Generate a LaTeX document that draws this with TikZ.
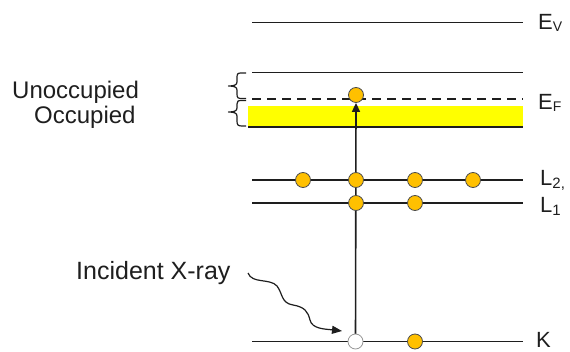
\documentclass[tikz,border=0pt]{standalone}
\usepackage{fontspec}
\setmainfont{Liberation Sans}
\usetikzlibrary{arrows.meta,backgrounds}
\definecolor{dotorange}{HTML}{FFC000}
\definecolor{bandyellow}{HTML}{FFFF00}
\definecolor{ink}{HTML}{1E1E1E}
\begin{document}
\begin{tikzpicture}[x=1pt,y=-1pt,
  level/.style={line width=1.6pt, draw=ink},
  electron/.style={circle, fill=dotorange, draw=black!70, line width=0.8pt,
                   minimum size=15pt, inner sep=0pt},
  hole/.style={circle, fill=white, draw=black!40, line width=0.8pt,
               minimum size=15pt, inner sep=0pt},
  lbl/.style={anchor=base west, inner sep=0pt, text=ink,
              font=\fontsize{22}{22}\selectfont},
  txt/.style={anchor=base west, inner sep=0pt, text=ink,
              font=\fontsize{24}{24}\selectfont},
  bracetick/.style={line width=1.2pt, draw=ink, line join=round}]
\useasboundingbox (0,0) rectangle (570,352);

% level labels
\node[lbl] (ev) at (538,30) {E\raisebox{-2pt}{\fontsize{14}{14}\selectfont V}};
\node[lbl] (ef-lbl) at (538,110) {E\raisebox{-2pt}{\fontsize{14}{14}\selectfont F}};
\node[lbl] (l2) at (540,186) {L\raisebox{-3pt}{\fontsize{15}{15}\selectfont 2,}};
\node[lbl] (l1) at (540,213) {L\raisebox{-3pt}{\fontsize{15}{15}\selectfont 1}};
\node[lbl] (k) at (536,348) {K};

% braces for unoccupied / occupied states
\draw[bracetick] (246,73) -- (241,73) .. controls (237.5,73) and (237,74) .. (237,78)
  -- (237,82) .. controls (237,85) and (234,86) .. (228.5,86)
  .. controls (234,86) and (237,87) .. (237,90) -- (237,94)
  .. controls (237,98) and (238,98.5) .. (242,98.5) -- (246,98.5);
\draw[bracetick] (246,100.5) -- (242,100.5) .. controls (238,100.5) and (237,101) .. (237,104)
  -- (237,108) .. controls (237,111) and (234,112) .. (228.5,112)
  .. controls (234,112) and (237,113) .. (237,116) -- (237,121)
  .. controls (237,125) and (238,126) .. (242,126) -- (246,126);

\node[txt] (unocc) at (12,99) {Unoccupied};
\node[txt] (occ) at (34,124) {Occupied};

% electrons and the core hole
\node[electron] (ef) at (356,95) {};
\node[electron] (l2a) at (303,180) {};
\node[electron] (l2b) at (356,180) {};
\node[electron] (l2c) at (415,180) {};
\node[electron] (l2d) at (473,180) {};
\node[electron] (l1a) at (356,203) {};
\node[electron] (l1b) at (415,203) {};
\node[hole] (k0) at (355.5,341.5) {};
\node[electron] (k1) at (415,341.5) {};

\begin{pgfonlayer}{background}
% occupied band below the Fermi level
\fill[bandyellow] (248,106) rectangle (523,126);
% energy levels
\draw[level] (252,22.5) -- (523,22.5);
\draw[level] (252,72.5) -- (523,72.5);
\draw[level, dash pattern=on 9pt off 6pt] (252,99) -- (523,99);
\draw[level] (248,127) -- (523,127);
\draw[level] (252,180) -- (523,180);
\draw[level] (252,203) -- (523,203);
\draw[level] (252,341.5) -- (523,341.5);
% excitation of the K electron
\draw[line width=1.6pt, draw=ink, -{Triangle[length=9pt,width=8pt]}]
  (k0.center) -- (ef.south);
\end{pgfonlayer}

% incident photon
\node[txt, font=\fontsize{25}{25}\selectfont] (xray) at (76,280) {Incident X-ray};
\coordinate (ray0) at (248,273);
\coordinate (ray1) at (342,331);
\draw[line width=1.2pt, draw=ink, -{Triangle[length=10pt,width=8pt]}]
  (ray0) .. controls (252,284) and (270,278) .. (277,286)
  .. controls (283,294) and (281,303) .. (293,305)
  .. controls (305,307) and (308,312) .. (310,320)
  .. controls (312,329) and (325,329) .. (ray1);
\end{tikzpicture}
\end{document}
